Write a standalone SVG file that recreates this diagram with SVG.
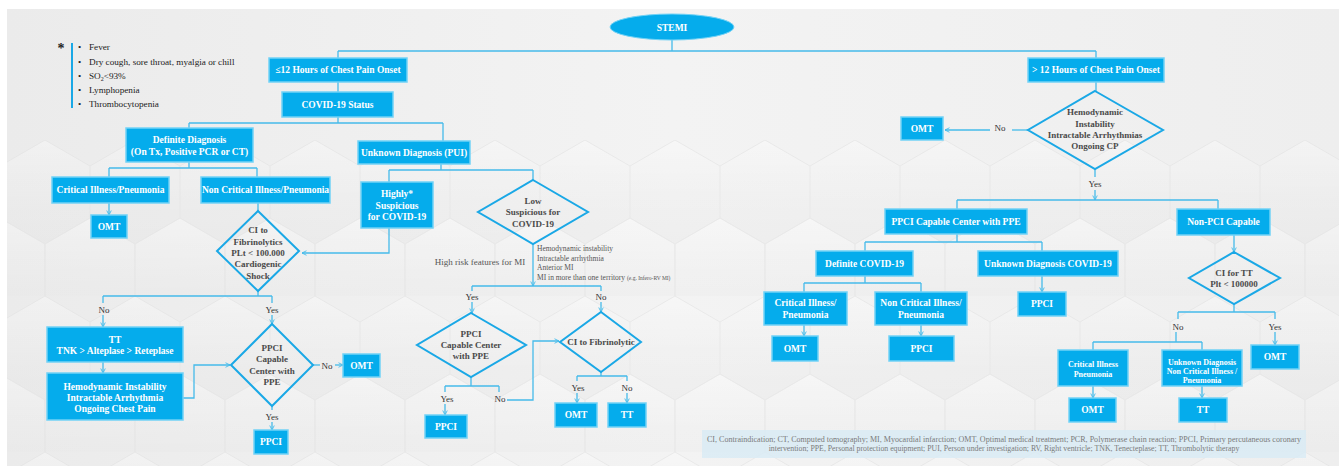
<svg xmlns="http://www.w3.org/2000/svg" width="1339" height="466" viewBox="0 0 1339 466">
<defs>
<style>
.box{fill:#05acec;stroke:#72d2f6;stroke-width:1.5}
.bt{font-family:"Liberation Serif",serif;font-weight:bold;font-size:9.5px;fill:#ffffff;text-anchor:middle}
.bs{font-family:"Liberation Serif",serif;font-weight:bold;font-size:8px;fill:#ffffff;text-anchor:middle}
.dia{fill:none;stroke:#1aa8e6;stroke-width:2}
.dt{font-family:"Liberation Serif",serif;font-weight:bold;font-size:9px;fill:#4a4a4a;text-anchor:middle}
.ln{stroke:#45bbea;stroke-width:1.3;fill:none}
.ar{stroke:#45bbea;stroke-width:1.3;fill:none;marker-end:url(#a)}
.lbl{font-family:"Liberation Serif",serif;font-size:9px;fill:#333333;text-anchor:middle}
.leg{font-family:"Liberation Serif",serif;font-size:9.2px;fill:#222222}
.sm{font-family:"Liberation Serif",serif;font-size:7.5px;fill:#555555}
.fn{font-family:"Liberation Serif",serif;font-size:7.8px;fill:#7a7a7a;text-anchor:middle}
</style>
<marker id="a" viewBox="0 0 8 8" refX="7" refY="4" markerWidth="6" markerHeight="6" markerUnits="userSpaceOnUse" orient="auto">
<path d="M1,1 L7,4 L1,7" fill="none" stroke="#45bbea" stroke-width="1.2"/>
</marker>
<linearGradient id="bg" x1="0" y1="0" x2="1" y2="0">
<stop offset="0" stop-color="#ebebeb"/>
<stop offset="0.5" stop-color="#f3f3f3"/>
<stop offset="1" stop-color="#eeeeee"/>
</linearGradient>
<linearGradient id="hg" x1="0" y1="0" x2="0" y2="1">
<stop offset="0" stop-color="#ffffff" stop-opacity="0.55"/>
<stop offset="1" stop-color="#dcdcdc" stop-opacity="0.35"/>
</linearGradient>
<pattern id="hex" x="0" y="140" width="90" height="156" patternUnits="userSpaceOnUse">
<polygon points="45,0 90,26 90,78 45,104 0,78 0,26" fill="url(#hg)" stroke="#e2e2e2" stroke-width="1"/>
<polygon points="0,78 45,104 45,156 0,182 -45,156 -45,104" fill="url(#hg)" stroke="#e2e2e2" stroke-width="1"/>
<polygon points="90,78 135,104 135,156 90,182 45,156 45,104" fill="url(#hg)" stroke="#e2e2e2" stroke-width="1"/>
</pattern>
</defs>
<rect x="0" y="0" width="1339" height="466" fill="#ffffff"/>
<rect x="7" y="9" width="1332" height="457" fill="url(#bg)"/>
<rect x="7" y="140" width="1332" height="326" fill="url(#hex)" opacity="0.6"/>

<g id="legend">
<text x="61" y="53" font-family="Liberation Serif,serif" font-size="14" font-weight="bold" fill="#222" text-anchor="middle">*</text>
<rect x="71" y="43" width="2" height="65" fill="#1aa8e6"/>
<g class="leg">
<text x="78" y="50">•</text><text x="89" y="50">Fever</text>
<text x="78" y="65">•</text><text x="89" y="65">Dry cough, sore throat, myalgia or chill</text>
<text x="78" y="79">•</text><text x="89" y="79">SO<tspan font-size="6" dy="2">2</tspan><tspan dy="-2">&lt;93%</tspan></text>
<text x="78" y="93">•</text><text x="89" y="93">Lymphopenia</text>
<text x="78" y="107">•</text><text x="89" y="107">Thrombocytopenia</text>
</g>
</g>

<g id="connectors">
<path class="ln" d="M672,40 V51 M338,51 H1096 M338,51 V58 M1096,51 V58"/>
<path class="ln" d="M338,82 V92 M338,117 V123 M189,123 H443 M189,123 V128 M443,123 V141"/>
<path class="ln" d="M189,162 V168 M109,168 H257 M109,168 V177 M257,168 V177"/>
<path class="ar" d="M109,203 V215"/>
<path class="ln" d="M258,203 V211"/>
<path class="ln" d="M441,164 V170 M389,170 H533 M389,170 V182 M533,170 V180"/>
<path class="ar" d="M389,228 V253 H302"/>
<path class="ar" d="M533,244 V286"/>
<path class="ln" d="M472,286 H601 M472,286 V291 M601,286 V291"/>
<path class="ar" d="M472,302 V313"/>
<path class="ar" d="M601,302 V312"/>
<path class="ln" d="M471,377 V386 M445,386 H499 M445,386 V392 M499,386 V392"/>
<path class="ar" d="M445,404 V415"/>
<path class="ar" d="M507,400 H533 V341 H559"/>
<path class="ln" d="M601,372 V376 M577,376 H627 M577,376 V381 M627,376 V381"/>
<path class="ar" d="M577,393 V403"/>
<path class="ar" d="M627,393 V403"/>
<path class="ln" d="M258,291 V296 M103,296 H272 M103,296 V303 M272,296 V303"/>
<path class="ar" d="M103,315 V327"/>
<path class="ar" d="M272,315 V324"/>
<path class="ar" d="M103,362 V373"/>
<path class="ar" d="M183,398 H194 V365 H230"/>
<path class="ln" d="M313,365 H320"/>
<path class="ar" d="M335,365 H343"/>
<path class="ln" d="M272,406 V410"/>
<path class="ar" d="M272,422 V430"/>
<path class="ln" d="M1096,82 V91"/>
<path class="ln" d="M1028,130 H1012"/>
<path class="ar" d="M990,130 H945"/>
<path class="ln" d="M1095,169 V177"/>
<path class="ar" d="M1095,190 V200"/>
<path class="ln" d="M957,200 H1218 M957,200 V209 M1218,200 V209"/>
<path class="ln" d="M957,234 V242 M865,242 H1042 M865,242 V251 M1042,242 V251"/>
<path class="ln" d="M865,276 V283 M804,283 H921 M804,283 V292 M921,283 V292"/>
<path class="ar" d="M1042,276 V292"/>
<path class="ar" d="M804,325 V336"/>
<path class="ar" d="M921,325 V336"/>
<path class="ar" d="M1234,235 V252"/>
<path class="ln" d="M1234,304 V312 M1178,312 H1275 M1178,312 V319 M1275,312 V319"/>
<path class="ln" d="M1176,332 V342 M1093,342 H1202 M1093,342 V350 M1202,342 V350"/>
<path class="ar" d="M1275,332 V345"/>
<path class="ar" d="M1093,386 V398"/>
<path class="ar" d="M1202,386 V398"/>
</g>

<g id="labels">
<text class="lbl" x="104" y="313">No</text>
<text class="lbl" x="272" y="313">Yes</text>
<text class="lbl" x="327" y="369">No</text>
<text class="lbl" x="272" y="420">Yes</text>
<text class="lbl" x="472" y="300">Yes</text>
<text class="lbl" x="601" y="300">No</text>
<text class="lbl" x="447" y="402">Yes</text>
<text class="lbl" x="500" y="402">No</text>
<text class="lbl" x="578" y="391">Yes</text>
<text class="lbl" x="627" y="391">No</text>
<text class="lbl" x="1000" y="131">No</text>
<text class="lbl" x="1095" y="187">Yes</text>
<text class="lbl" x="1178" y="330">No</text>
<text class="lbl" x="1275" y="330">Yes</text>
<text x="480" y="265" font-family="Liberation Serif,serif" font-size="9px" fill="#555" text-anchor="middle">High risk features for MI</text>
<g class="sm">
<text x="537" y="251">Hemodynamic instability</text>
<text x="537" y="260.5">Intractable arrhythmia</text>
<text x="537" y="270">Anterior MI</text>
<text x="537" y="279.5">MI in more than one territory <tspan font-size="5.5px">(e.g. Infero-RV MI)</tspan></text>
</g>
</g>

<g id="stemi">
<ellipse cx="672" cy="27" rx="62" ry="13" fill="#05acec" stroke="#72d2f6" stroke-width="1"/>
<text class="bt" x="672" y="31" font-size="11px">STEMI</text>
</g>

<g id="le12"><rect class="box" x="269" y="58" width="138" height="24"/><text class="bt" x="338" y="73.3">≤12 Hours of Chest Pain Onset</text></g>
<g id="covidstatus"><rect class="box" x="282" y="92" width="111" height="25"/><text class="bt" x="337.5" y="107.8">COVID-19 Status</text></g>
<g id="definite"><rect class="box" x="126" y="128" width="127" height="34"/><text class="bt" x="189.5" y="143.3">Definite Diagnosis</text><text class="bt" x="189.5" y="155.3">(On Tx, Positive PCR or CT)</text></g>
<g id="unknownpui"><rect class="box" x="358" y="141" width="112" height="23"/><text class="bt" x="414" y="155.8">Unknown Diagnosis (PUI)</text></g>
<g id="critical1"><rect class="box" x="52" y="177" width="117" height="26"/><text class="bt" x="110.5" y="193.3">Critical Illness/Pneumonia</text></g>
<g id="noncritical1"><rect class="box" x="201" y="177" width="129" height="26"/><text class="bt" x="265.5" y="193.3">Non Critical Illness/Pneumonia</text></g>
<g id="omt1"><rect class="box" x="91" y="215" width="36" height="23"/><text class="bt" x="109" y="229.8">OMT</text></g>
<g id="highly"><rect class="box" x="361" y="182" width="72" height="46"/><text class="bt" x="397" y="197.3">Highly*</text><text class="bt" x="397" y="209.3">Suspicious</text><text class="bt" x="397" y="220.3">for COVID-19</text></g>
<g id="cifib"><polygon class="dia" points="258,211 299,251 258,291 217,251"/>
<text class="dt" x="258" y="233">CI to</text><text class="dt" x="258" y="245">Fibrinolytics</text><text class="dt" x="258" y="256">PLt &lt; 100.000</text><text class="dt" x="258" y="267">Cardiogenic</text><text class="dt" x="258" y="279">Shock</text></g>
<g id="lowsusp"><polygon class="dia" points="533,180 588,212 533,244 478,212"/>
<text class="dt" x="533" y="204">Low</text><text class="dt" x="533" y="215">Suspicious for</text><text class="dt" x="533" y="227">COVID-19</text></g>
<g id="tt1"><rect class="box" x="47" y="327" width="136" height="35"/><text class="bt" x="115" y="343.3">TT</text><text class="bt" x="115" y="354.3">TNK &gt; Alteplase &gt; Reteplase</text></g>
<g id="hemo1"><rect class="box" x="47" y="373" width="136" height="47"/><text class="bt" x="115" y="390.3">Hemodynamic Instability</text><text class="bt" x="115" y="401.3">Intractable Arrhythmia</text><text class="bt" x="115" y="412.3">Ongoing Chest Pain</text></g>
<g id="ppcidia1"><polygon class="dia" points="272,324 313,365 272,406 231,365"/>
<text class="dt" x="272" y="351">PPCI</text><text class="dt" x="272" y="362">Capable</text><text class="dt" x="272" y="374">Center with</text><text class="dt" x="272" y="385">PPE</text></g>
<g id="omt2"><rect class="box" x="343" y="354" width="37" height="23"/><text class="bt" x="361.5" y="368.8">OMT</text></g>
<g id="ppci1"><rect class="box" x="254" y="430" width="34" height="24"/><text class="bt" x="271" y="445.3">PPCI</text></g>
<g id="ppcidia2"><polygon class="dia" points="471,313 526,345 471,377 417,345"/>
<text class="dt" x="471" y="337">PPCI</text><text class="dt" x="471" y="348">Capable Center</text><text class="dt" x="471" y="359">with PPE</text></g>
<g id="cifib2"><polygon class="dia" points="601,312 641,342 601,372 560,342"/>
<text class="dt" x="601" y="345">CI to Fibrinolytic</text></g>
<g id="ppci2"><rect class="box" x="425" y="415" width="42" height="23"/><text class="bt" x="446" y="429.8">PPCI</text></g>
<g id="omt3"><rect class="box" x="555" y="403" width="42" height="24"/><text class="bt" x="576" y="418.3">OMT</text></g>
<g id="tt2"><rect class="box" x="608" y="403" width="38" height="24"/><text class="bt" x="627" y="418.3">TT</text></g>

<g id="gt12"><rect class="box" x="1028" y="58" width="136" height="24"/><text class="bt" x="1096" y="73.3">&gt; 12 Hours of Chest Pain Onset</text></g>
<g id="hemodia"><polygon class="dia" points="1095,91 1163,130 1095,169 1028,130"/>
<text class="dt" x="1095" y="115">Hemodynamic</text><text class="dt" x="1095" y="127">Instability</text><text class="dt" x="1095" y="138">Intractable Arrhythmias</text><text class="dt" x="1095" y="149">Ongoing CP</text></g>
<g id="omt4"><rect class="box" x="901" y="117" width="42" height="23"/><text class="bt" x="922" y="131.8">OMT</text></g>
<g id="ppcicap"><rect class="box" x="885" y="209" width="142" height="25"/><text class="bt" x="956" y="224.8">PPCI Capable Center with PPE</text></g>
<g id="nonpci"><rect class="box" x="1177" y="209" width="93" height="26"/><text class="bt" x="1223.5" y="225.3">Non-PCI Capable</text></g>
<g id="defcovid"><rect class="box" x="816" y="251" width="97" height="25"/><text class="bt" x="864.5" y="266.8">Definite COVID-19</text></g>
<g id="unkcovid"><rect class="box" x="978" y="251" width="140" height="25"/><text class="bt" x="1048" y="266.8">Unknown Diagnosis COVID-19</text></g>
<g id="critical2"><rect class="box" x="764" y="292" width="83" height="33"/><text class="bt" x="805.5" y="306.3">Critical Illness/</text><text class="bt" x="805.5" y="318.3">Pneumonia</text></g>
<g id="noncritical2"><rect class="box" x="875" y="292" width="92" height="33"/><text class="bt" x="921" y="306.3">Non Critical Illness/</text><text class="bt" x="921" y="318.3">Pneumonia</text></g>
<g id="ppci3"><rect class="box" x="1018" y="292" width="48" height="24"/><text class="bt" x="1042" y="307.3">PPCI</text></g>
<g id="omt5"><rect class="box" x="772" y="336" width="46" height="25"/><text class="bt" x="795" y="351.8">OMT</text></g>
<g id="ppci4"><rect class="box" x="889" y="336" width="65" height="25"/><text class="bt" x="921.5" y="351.8">PPCI</text></g>
<g id="citt"><polygon class="dia" points="1234,252 1280,278 1234,304 1189,278"/>
<text class="dt" x="1234" y="276">CI for TT</text><text class="dt" x="1234" y="287">Plt &lt; 100000</text></g>
<g id="critical3"><rect class="box" x="1058" y="350" width="70" height="36"/><text class="bs" x="1093" y="366.8">Critical Illness</text><text class="bs" x="1093" y="376.8">Pneumonia</text></g>
<g id="unkdiag3"><rect class="box" x="1162" y="350" width="80" height="36"/><text class="bs" x="1202" y="364.8">Unknown Diagnosis</text><text class="bs" x="1202" y="373.8">Non Critical Illness /</text><text class="bs" x="1202" y="382.8">Pneumonia</text></g>
<g id="omt6"><rect class="box" x="1069" y="398" width="47" height="24"/><text class="bt" x="1092.5" y="413.3">OMT</text></g>
<g id="tt3"><rect class="box" x="1179" y="398" width="48" height="24"/><text class="bt" x="1203" y="413.3">TT</text></g>
<g id="omt7"><rect class="box" x="1251" y="345" width="48" height="24"/><text class="bt" x="1275" y="360.3">OMT</text></g>

<g id="footnote">
<rect x="702" y="430" width="604" height="28" fill="#d9ebf5" opacity="0.85"/>
<text class="fn" x="1004" y="441.5" textLength="594" lengthAdjust="spacingAndGlyphs">CI, Contraindication; CT, Computed tomography; MI, Myocardial infarction; OMT, Optimal medical treatment;  PCR, Polymerase chain reaction; PPCI, Primary percutaneous coronary</text>
<text class="fn" x="1004" y="451">intervention; PPE, Personal protection equipment; PUI, Person under investigation; RV, Right ventricle; TNK, Tenecteplase; TT, Thrombolytic therapy</text>
</g>
</svg>
